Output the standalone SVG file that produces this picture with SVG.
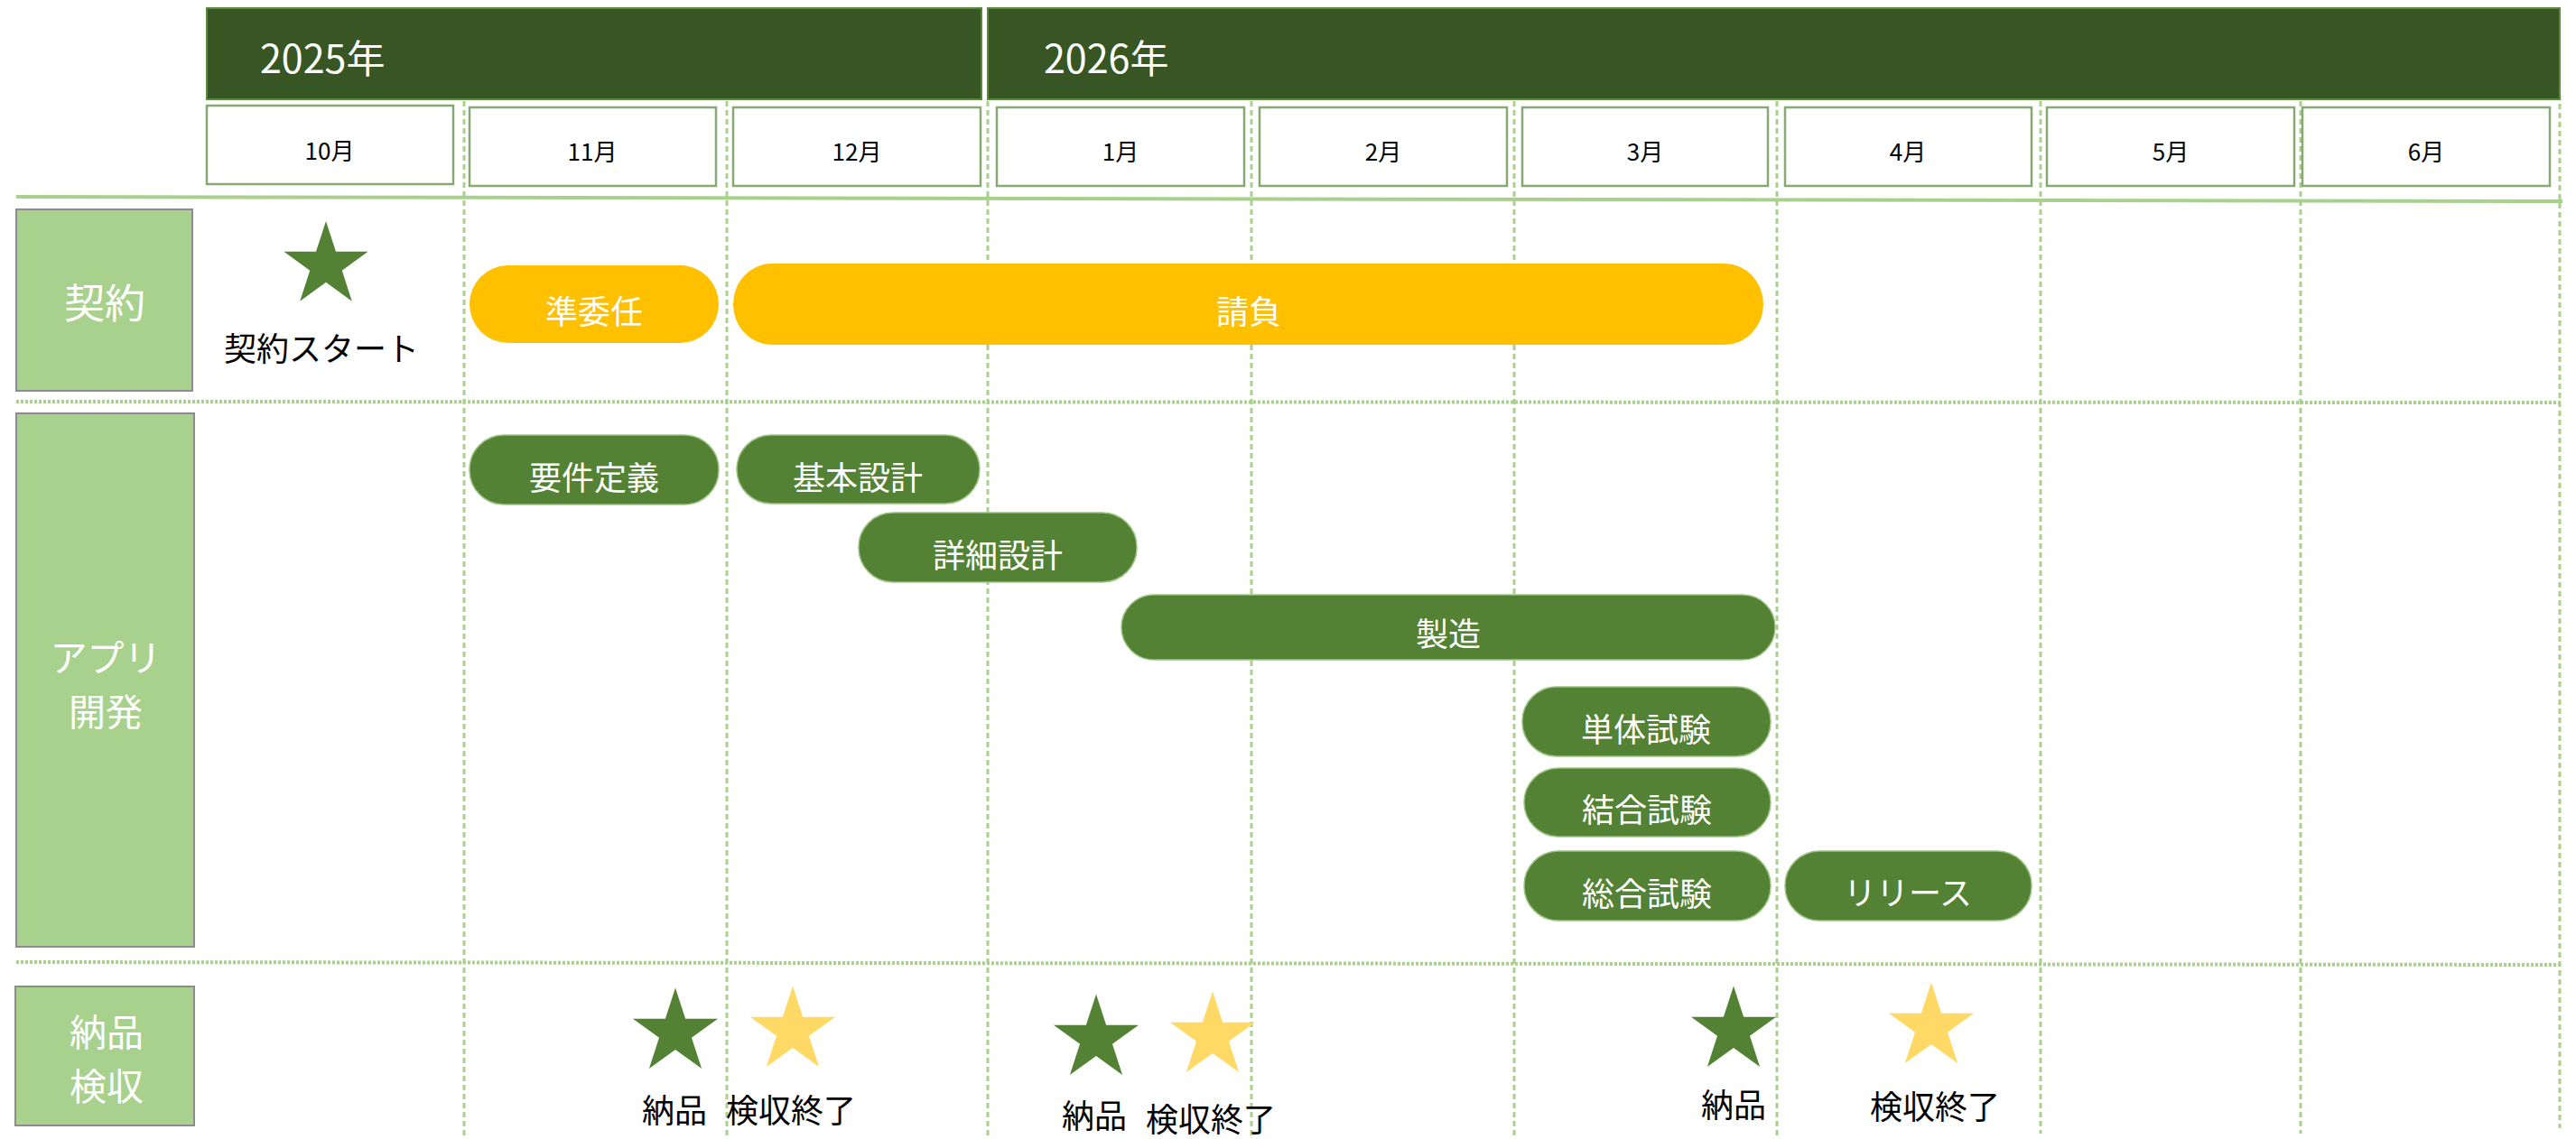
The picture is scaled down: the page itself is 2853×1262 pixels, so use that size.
<svg xmlns="http://www.w3.org/2000/svg" xmlns:xlink="http://www.w3.org/1999/xlink" width="2853" height="1262" viewBox="0 0 2853 1262">
<style>
  text { font-family: "Noto Sans CJK JP", "Noto Sans", sans-serif; }
  .year { fill: #375623; stroke: #5a8a3c; stroke-width: 2; }
  .yeartxt { fill: #ffffff; font-size: 43px; }
  .month { fill: #ffffff; stroke: #86a873; stroke-width: 2.5; }
  .monthtxt { fill: #000000; font-size: 26px; text-anchor: middle; }
  .rowlbl { fill: #a9d18e; stroke: #8c8c8c; stroke-width: 2; }
  .rowtxt { fill: #ffffff; font-size: 45px; text-anchor: middle; }
  .rowtxt2 { fill: #ffffff; font-size: 41px; text-anchor: middle; }
  .ypill { fill: #ffc000; }
  .gpill { fill: #548235; stroke: #9cc283; stroke-width: 1.5; }
  .pilltxt { fill: #ffffff; font-size: 36px; text-anchor: middle; }
  .lbl { fill: #000000; font-size: 36px; text-anchor: middle; }
  .vgrid { stroke: #a9d18e; stroke-width: 3; stroke-dasharray: 6 4; fill: none; }
  .hdot { stroke: #a9d18e; stroke-width: 4; stroke-dasharray: 3 2; fill: none; }
  .hsolid { stroke: #a9d18e; stroke-width: 4; fill: none; }
  .gstar { fill: #548235; }
  .ystar { fill: #ffd966; }
</style>
<defs>
  <polygon id="star" points="0,-1 0.2245,-0.309 0.9511,-0.309 0.3633,0.118 0.5878,0.809 0,0.382 -0.5878,0.809 -0.3633,0.118 -0.9511,-0.309 -0.2245,-0.309"/>
</defs>
<rect width="2853" height="1262" fill="#ffffff"/>

<g id="connectors">
  <line class="hsolid" x1="18" y1="218" x2="2838" y2="223"/>
  <line class="hdot" x1="18" y1="445" x2="2838" y2="446"/>
  <line class="hdot" x1="18" y1="1066" x2="2838" y2="1069"/>
  <line class="vgrid" x1="514" y1="112" x2="514" y2="1262"/>
  <line class="vgrid" x1="805" y1="112" x2="805" y2="1262"/>
  <line class="vgrid" x1="1094" y1="112" x2="1094" y2="1262"/>
  <line class="vgrid" x1="1386" y1="112" x2="1386" y2="1262"/>
  <line class="vgrid" x1="1677" y1="112" x2="1677" y2="1262"/>
  <line class="vgrid" x1="1968" y1="112" x2="1968" y2="1258"/>
  <line class="vgrid" x1="2260" y1="112" x2="2260" y2="1256"/>
  <line class="vgrid" x1="2548" y1="112" x2="2548" y2="1256"/>
  <line class="vgrid" x1="2835" y1="105" x2="2835" y2="1250"/>
</g>

<g id="year-2025">
  <rect class="year" x="229" y="9" width="858" height="101"/>
  <text class="yeartxt" x="288" y="81">2025年</text>
</g>
<g id="year-2026">
  <rect class="year" x="1094" y="9" width="1741" height="101"/>
  <text class="yeartxt" x="1156" y="81">2026年</text>
</g>

<g id="month-10"><rect class="month" x="229" y="117" width="273" height="87"/><text class="monthtxt" x="365" y="177">10月</text></g>
<g id="month-11"><rect class="month" x="520" y="119" width="273" height="87"/><text class="monthtxt" x="656" y="178">11月</text></g>
<g id="month-12"><rect class="month" x="812" y="119" width="274" height="87"/><text class="monthtxt" x="949" y="178">12月</text></g>
<g id="month-1"><rect class="month" x="1104" y="119" width="274" height="87"/><text class="monthtxt" x="1241" y="178">1月</text></g>
<g id="month-2"><rect class="month" x="1395" y="119" width="274" height="87"/><text class="monthtxt" x="1532" y="178">2月</text></g>
<g id="month-3"><rect class="month" x="1686" y="119" width="272" height="87"/><text class="monthtxt" x="1822" y="178">3月</text></g>
<g id="month-4"><rect class="month" x="1977" y="119" width="273" height="87"/><text class="monthtxt" x="2113" y="178">4月</text></g>
<g id="month-5"><rect class="month" x="2267" y="119" width="274" height="87"/><text class="monthtxt" x="2404" y="178">5月</text></g>
<g id="month-6"><rect class="month" x="2550" y="119" width="274" height="87"/><text class="monthtxt" x="2687" y="178">6月</text></g>

<g id="row-contract">
  <rect class="rowlbl" x="18" y="232" width="195" height="201"/>
  <text class="rowtxt" x="116" y="353">契約</text>
</g>
<g id="row-app">
  <rect class="rowlbl" x="18" y="458" width="197" height="591"/>
  <text class="rowtxt2" x="117" y="744">アプリ</text>
  <text class="rowtxt2" x="117" y="804">開発</text>
</g>
<g id="row-delivery">
  <rect class="rowlbl" x="17" y="1093" width="198" height="154"/>
  <text class="rowtxt2" x="118" y="1159">納品</text>
  <text class="rowtxt2" x="118" y="1219">検収</text>
</g>

<g id="contract-start">
  <use xlink:href="#star" class="gstar" transform="translate(361,294) scale(49)"/>
  <text class="lbl" x="356" y="400">契約スタート</text>
</g>

<g id="pill-junin">
  <rect class="ypill" x="520" y="294" width="276" height="86" rx="43" ry="43"/>
  <text class="pilltxt" x="658" y="359">準委任</text>
</g>
<g id="pill-ukeoi">
  <rect class="ypill" x="812" y="292" width="1141" height="90" rx="43" ry="45"/>
  <text class="pilltxt" x="1383" y="359">請負</text>
</g>

<g id="task-requirements">
  <rect class="gpill" x="520" y="482" width="276" height="77" rx="38"/>
  <text class="pilltxt" x="658" y="543">要件定義</text>
</g>
<g id="task-basic-design">
  <rect class="gpill" x="816" y="482" width="269" height="76" rx="38"/>
  <text class="pilltxt" x="950" y="543">基本設計</text>
</g>
<g id="task-detail-design">
  <rect class="gpill" x="951" y="568" width="308" height="77" rx="38"/>
  <text class="pilltxt" x="1105" y="629">詳細設計</text>
</g>
<g id="task-build">
  <rect class="gpill" x="1242" y="659" width="724" height="72" rx="36"/>
  <text class="pilltxt" x="1604" y="716">製造</text>
</g>
<g id="task-unit-test">
  <rect class="gpill" x="1686" y="761" width="275" height="77" rx="38"/>
  <text class="pilltxt" x="1823" y="822">単体試験</text>
</g>
<g id="task-integration-test">
  <rect class="gpill" x="1688" y="851" width="273" height="76" rx="38"/>
  <text class="pilltxt" x="1824" y="911">結合試験</text>
</g>
<g id="task-system-test">
  <rect class="gpill" x="1688" y="943" width="273" height="77" rx="38"/>
  <text class="pilltxt" x="1824" y="1004">総合試験</text>
</g>
<g id="task-release">
  <rect class="gpill" x="1977" y="943" width="273" height="77" rx="38"/>
  <text class="pilltxt" x="2113" y="1003">リリース</text>
</g>

<g id="delivery-1">
  <use xlink:href="#star" class="gstar" transform="translate(748,1144) scale(49.5)"/>
  <text class="lbl" x="747" y="1244">納品</text>
</g>
<g id="acceptance-1">
  <use xlink:href="#star" class="ystar" transform="translate(878,1142) scale(49.5)"/>
  <text class="lbl" x="876" y="1244">検収終了</text>
</g>
<g id="delivery-2">
  <use xlink:href="#star" class="gstar" transform="translate(1214,1151) scale(49.5)"/>
  <text class="lbl" x="1212" y="1250">納品</text>
</g>
<g id="acceptance-2">
  <use xlink:href="#star" class="ystar" transform="translate(1343,1148) scale(49.5)"/>
  <text class="lbl" x="1341" y="1254">検収終了</text>
</g>
<g id="delivery-3">
  <use xlink:href="#star" class="gstar" transform="translate(1920,1142) scale(49.5)"/>
  <text class="lbl" x="1920" y="1238">納品</text>
</g>
<g id="acceptance-3">
  <use xlink:href="#star" class="ystar" transform="translate(2139,1138) scale(49.5)"/>
  <text class="lbl" x="2143" y="1240">検収終了</text>
</g>
</svg>
